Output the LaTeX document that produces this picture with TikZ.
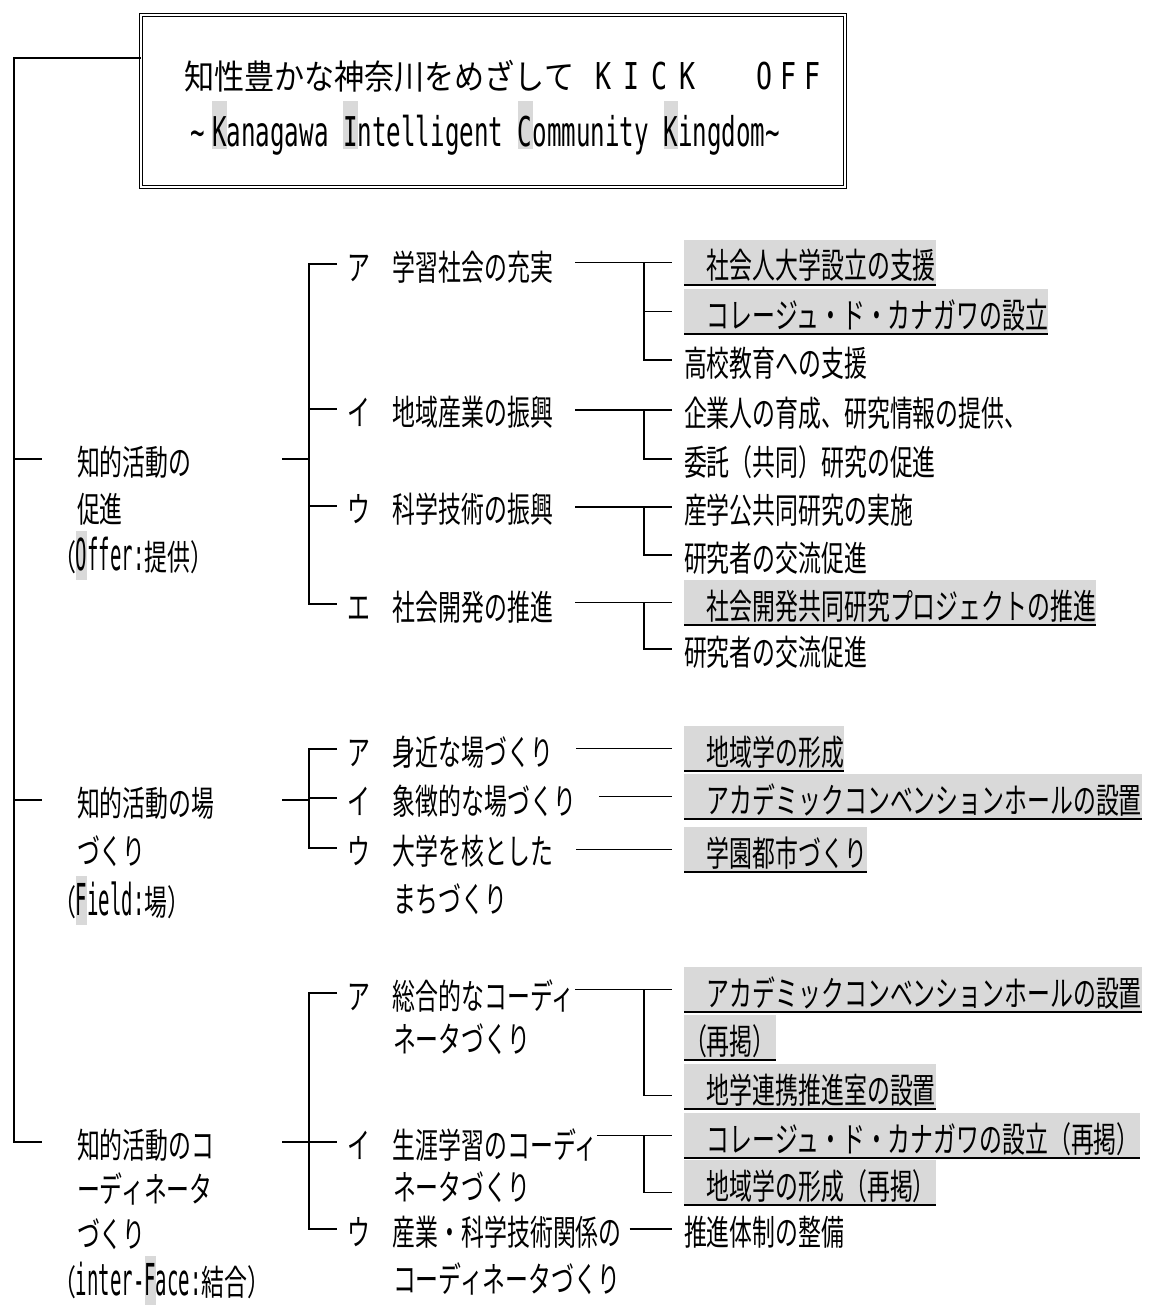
\documentclass[tikz,border=0pt]{standalone}
\usepackage{fontspec}
\usetikzlibrary{calc}
\newfontfamily\jpb[FakeStretch=0.654]{Noto Sans CJK JP}
\newfontfamily\jpt[FakeStretch=0.885]{Noto Sans CJK JP}
\newfontfamily\latb[FakeStretch=0.432]{DejaVu Sans Mono}
\newfontfamily\lats[FakeStretch=0.59]{DejaVu Sans Mono}
\newfontfamily\latt[FakeStretch=0.72]{DejaVu Sans Mono}
\definecolor{hlgray}{RGB}{217,217,217}
\newcommand{\latx}[1]{{\fontsize{44pt}{48pt}\latb #1}}
\newcommand{\hlb}[1]{{\setlength{\fboxsep}{0pt}\colorbox{hlgray}{\rule[-10pt]{0pt}{49pt}#1}}}
\newcommand{\hls}[1]{{\setlength{\fboxsep}{0pt}\colorbox{hlgray}{\rule[-2pt]{0pt}{48pt}#1}}}
\begin{document}
\begin{tikzpicture}[x=1pt,y=-1pt,
  ln/.style={line width=1.8pt},
  ul/.style={line width=2pt},
  txt/.style={anchor=base west, inner sep=0pt, outer sep=0pt, text height=32pt, text depth=0pt, font=\jpb\fontsize{35pt}{40pt}\selectfont},
  hl/.style={txt, fill=hlgray, text height=39pt, text depth=6pt},
  ttl/.style={anchor=base west, inner sep=0pt, outer sep=0pt}
]
\useasboundingbox (0,0) rectangle (1157,1313);
\fill[white] (0,0) rectangle (1157,1313);

% title box
\node[draw, double, line width=1.6pt, double distance=1.2pt, outer sep=0pt, inner sep=0pt,
      minimum width=704pt, minimum height=172pt] (tb) at (493,101) {};
\node[ttl, font=\jpt\fontsize{34pt}{40pt}\selectfont] (t1) at (184,90) {知性豊かな神奈川をめざして};
\node[ttl, font=\latt\fontsize{37pt}{40pt}\selectfont] (t2) at (590,90)
  {\makebox[27.9pt]{K}\makebox[27.9pt]{I}\makebox[27.9pt]{C}\makebox[27.9pt]{K}};
\node[ttl, font=\latt\fontsize{37pt}{40pt}\selectfont] (t3) at (753,90)
  {\makebox[24pt]{O}\makebox[24pt]{F}\makebox[24pt]{F}};
\node[ttl, font=\lats\fontsize{41pt}{44pt}\selectfont] (t4) at (183,147)
  {\makebox[29.1pt]{\textasciitilde}\hls{K}anagawa \hls{I}ntelligent \hls{C}ommunity \hls{K}ingdom\textasciitilde};

% level 1
\node[txt] (p1a) at (77,475) {知的活動の};
\node[txt] (p1b) at (77,522) {促進};
\node[txt] (p1c) at (53,570) {（\latx{\hlb{O}ffer:}提供）};
\node[txt] (p2a) at (77,816) {知的活動の場};
\node[txt] (p2b) at (77,864) {づくり};
\node[txt] (p2c) at (53,915) {（\latx{\hlb{F}ield:}場）};
\node[txt] (p3a) at (77,1158) {知的活動のコ};
\node[txt] (p3b) at (77,1202) {ーディネータ};
\node[txt] (p3c) at (77,1247) {づくり};
\node[txt] (p3d) at (53,1295) {（\latx{inter-\hlb{F}ace:}結合）};

% level 2
\node[txt] (a1) at (347,280) {ア　学習社会の充実};
\node[txt] (a2) at (347,425) {イ　地域産業の振興};
\node[txt] (a3) at (347,522) {ウ　科学技術の振興};
\node[txt] (a4) at (347,620) {エ　社会開発の推進};
\node[txt] (f1) at (347,765) {ア　身近な場づくり};
\node[txt] (f2) at (347,814) {イ　象徴的な場づくり};
\node[txt] (f3) at (347,864) {ウ　大学を核とした};
\node[txt] (f3b) at (393,912) {まちづくり};
\node[txt] (k1) at (347,1009) {ア　総合的なコーディ};
\node[txt] (k1b) at (393,1052) {ネータづくり};
\node[txt] (k2) at (347,1158) {イ　生涯学習のコーディ};
\node[txt] (k2b) at (393,1200) {ネータづくり};
\node[txt] (k3) at (347,1245) {ウ　産業・科学技術関係の};
\node[txt] (k3b) at (393,1292) {コーディネータづくり};

% level 3
\node[hl] (c1) at (684,279) {　社会人大学設立の支援};
\node[hl] (c2) at (684,328) {　コレージュ・ド・カナガワの設立};
\node[txt] (c3) at (684,376) {高校教育への支援};
\node[txt] (c4) at (684,426) {企業人の育成、研究情報の提供、};
\node[txt] (c5) at (684,475) {委託（共同）研究の促進};
\node[txt] (c6) at (684,523) {産学公共同研究の実施};
\node[txt] (c7) at (684,571) {研究者の交流促進};
\node[hl] (c8) at (684,619) {　社会開発共同研究プロジェクトの推進};
\node[txt] (c9) at (684,665) {研究者の交流促進};
\node[hl] (g1) at (684,765) {　地域学の形成};
\node[hl] (g2) at (684,813) {　アカデミックコンベンションホールの設置};
\node[hl] (g3) at (684,866) {　学園都市づくり};
\node[hl] (h1) at (684,1006) {　アカデミックコンベンションホールの設置};
\node[hl] (h1b) at (684,1054) {（再掲）};
\node[hl] (h2) at (684,1103) {　地学連携推進室の設置};
\node[hl] (h3) at (684,1152) {　コレージュ・ド・カナガワの設立（再掲）};
\node[hl] (h4) at (684,1199) {　地域学の形成（再掲）};
\node[txt] (h5) at (684,1245) {推進体制の整備};

\foreach \n in {c1,c2,c8,g1,g2,g3,h1,h1b,h2,h3,h4}
  \draw[ul] (\n.south west) -- (\n.south east);

% main trunk
\draw[ln] ([yshift=-43pt]tb.north west) -| ([xshift=-63pt]p3a.west) -- ([xshift=-35pt]p3a.west);
\draw[ln] ([xshift=-63pt]p1a.west) -- ([xshift=-35pt]p1a.west);
\draw[ln] ([xshift=-63pt]p2a.west) -- ([xshift=-35pt]p2a.west);

% level 1 -> level 2
\coordinate (Ls) at (282,0);
\coordinate (Lv) at (309,0);
\draw[ln] (Ls |- p1a.west) -- (Lv |- p1a.west);
\draw[ln] ([xshift=-10pt]a1.west) -| (Lv |- a4.west) -- ([xshift=-10pt]a4.west);
\draw[ln] (Lv |- a2.west) -- ([xshift=-10pt]a2.west);
\draw[ln] (Lv |- a3.west) -- ([xshift=-10pt]a3.west);

\draw[ln] (Ls |- p2a.west) -- (Lv |- p2a.west);
\draw[ln] ([xshift=-10pt]f1.west) -| (Lv |- f3.west) -- ([xshift=-10pt]f3.west);
\draw[ln] (Lv |- f2.west) -- ([xshift=-10pt]f2.west);

\draw[ln] (Ls |- p3a.west) -- (Lv |- p3a.west);
\draw[ln] ([xshift=-10pt]k1.west) -| (Lv |- k3.west) -- ([xshift=-10pt]k3.west);
\draw[ln] (Lv |- k2.west) -- ([xshift=-10pt]k2.west);

% level 2 -> level 3
\coordinate (J) at (644,0);
\coordinate (s1) at ([xshift=22pt]a1.east);
\coordinate (s2) at ([xshift=22pt]a2.east);
\coordinate (s3) at ([xshift=22pt]a3.east);
\coordinate (s4) at ([xshift=22pt]a4.east);
\draw[ln] (s1 |- c1.west) -- ([xshift=-12pt]c1.west);
\draw[ln] (J |- c1.west) |- ([xshift=-12pt]c3.west);
\draw[ln] (J |- c2.west) -- ([xshift=-12pt]c2.west);
\draw[ln] (s2 |- c4.west) -- ([xshift=-12pt]c4.west);
\draw[ln] (J |- c4.west) |- ([xshift=-12pt]c5.west);
\draw[ln] (s3 |- c6.west) -- ([xshift=-12pt]c6.west);
\draw[ln] (J |- c6.west) |- ([xshift=-12pt]c7.west);
\draw[ln] (s4 |- c8.west) -- ([xshift=-12pt]c8.west);
\draw[ln] (J |- c8.west) |- ([xshift=-12pt]c9.west);

\coordinate (sf1) at ([xshift=23pt]f1.east);
\coordinate (sf2) at ([xshift=23pt]f2.east);
\coordinate (sf3) at ([xshift=23pt]f3.east);
\draw[ln] (sf1 |- g1.west) -- ([xshift=-12pt]g1.west);
\draw[ln] (sf2 |- g2.west) -- ([xshift=-12pt]g2.west);
\draw[ln] (sf3 |- g3.west) -- ([xshift=-12pt]g3.west);

\coordinate (sk1) at ([xshift=1pt]k1.east);
\coordinate (sk2) at ([xshift=0pt]k2.east);
\coordinate (sk3) at ([xshift=8pt]k3.east);
\coordinate (h2b) at ([yshift=-9pt]h2.west);
\coordinate (h4b) at ([yshift=-10pt]h4.west);
\draw[ln] (sk1 |- h1.west) -- ([xshift=-12pt]h1.west);
\draw[ln] (J |- h1.west) |- ([xshift=-12pt]h2b);
\draw[ln] (sk2 |- h3.west) -- ([xshift=-12pt]h3.west);
\draw[ln] (J |- h3.west) |- ([xshift=-12pt]h4b);
\draw[ln] (sk3 |- h5.west) -- ([xshift=-12pt]h5.west);
\end{tikzpicture}
\end{document}
